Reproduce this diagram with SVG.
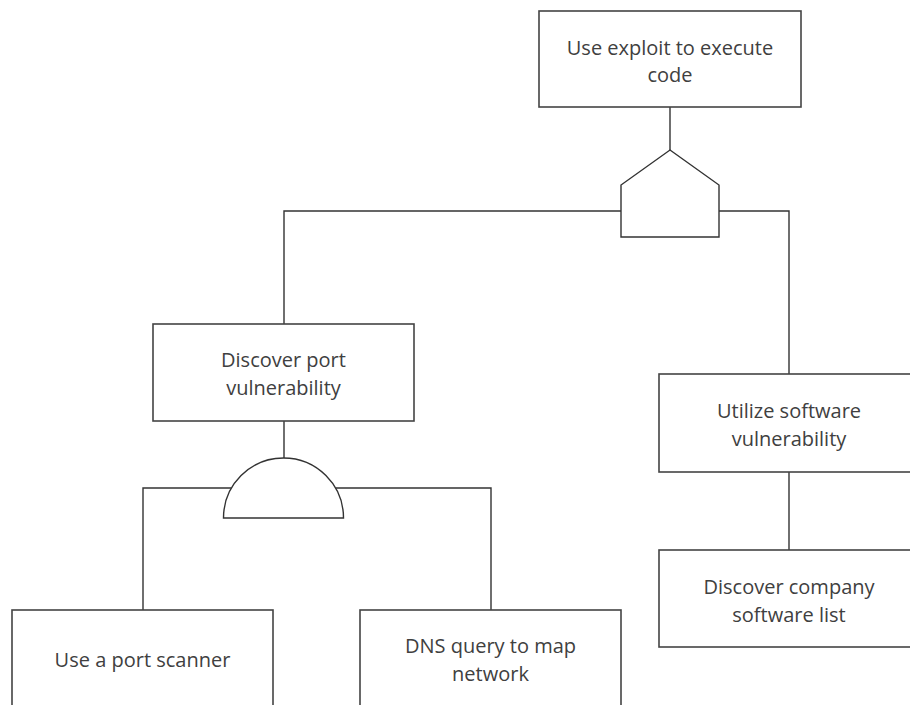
<svg xmlns="http://www.w3.org/2000/svg" width="910" height="705" viewBox="0 0 910 705">
<style>
.box{fill:#fff;stroke:#444;stroke-width:1.6}
.gate{fill:#fff;stroke:#333;stroke-width:1.4}
.conn{fill:none;stroke:#333;stroke-width:1.4}
text{font-family:"Open Sans","Noto Sans","DejaVu Sans",sans-serif;font-size:20px;fill:#404040;text-anchor:middle;dominant-baseline:central}
</style>
<rect width="910" height="705" fill="#fff"/>
<g id="connectors">
<path class="conn" d="M670,107 V150"/>
<path class="conn" d="M621,211 H284 V324"/>
<path class="conn" d="M719,211 H789 V374"/>
<path class="conn" d="M284,421 V458"/>
<path class="conn" d="M231.5,488 H143 V610"/>
<path class="conn" d="M335.5,488 H491 V610"/>
<path class="conn" d="M789,472 V550"/>
</g>
<g id="or-gate">
<path class="gate" d="M670,150 L719,185 V237 H621 V185 Z"/>
</g>
<g id="and-gate">
<path class="gate" d="M223.5,518 A60,60 0 0 1 343.5,518 Z"/>
</g>
<g id="node-exploit">
<rect class="box" x="539" y="11" width="262" height="96"/>
<text x="670" y="47">Use exploit to execute</text>
<text x="670" y="74">code</text>
</g>
<g id="node-port-vuln">
<rect class="box" x="153" y="324" width="261" height="97"/>
<text x="283.5" y="359">Discover port</text>
<text x="283.5" y="387">vulnerability</text>
</g>
<g id="node-software-vuln">
<rect class="box" x="659" y="374" width="261" height="98"/>
<text x="789" y="410">Utilize software</text>
<text x="789" y="438">vulnerability</text>
</g>
<g id="node-software-list">
<rect class="box" x="659" y="550" width="261" height="97"/>
<text x="789" y="586">Discover company</text>
<text x="789" y="614">software list</text>
</g>
<g id="node-port-scanner">
<rect class="box" x="12" y="610" width="261" height="97"/>
<text x="142.5" y="659">Use a port scanner</text>
</g>
<g id="node-dns">
<rect class="box" x="360" y="610" width="261" height="97"/>
<text x="490.5" y="645">DNS query to map</text>
<text x="490.5" y="673">network</text>
</g>
</svg>
